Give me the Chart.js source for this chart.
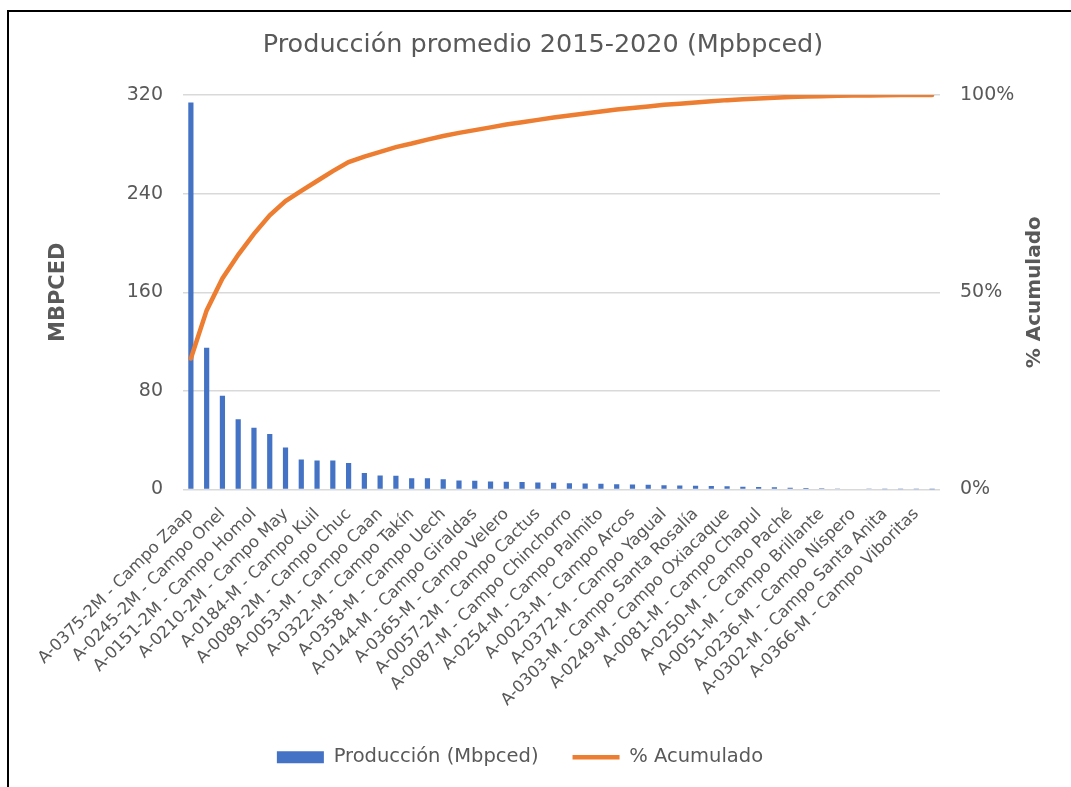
<!DOCTYPE html>
<html lang="es">
<head>
<meta charset="UTF-8">
<title>Producción promedio 2015-2020</title>
<script src="https://cdn.jsdelivr.net/npm/chart.js"></script>
<style>
  html, body { margin: 0; padding: 0; background: #fff; overflow: hidden; }
  #wrap { position: relative; width: 1071px; height: 787px; }
  #frame { position: absolute; left: 7px; top: 10px; width: 1100px; height: 800px;
           border-left: 2px solid #000; border-top: 2px solid #000; pointer-events: none; }
</style>
</head>
<body>
<div id="wrap">
  <canvas id="pareto" width="1071" height="787"></canvas>
  <div id="frame"></div>
</div>
<script>
// categorías (solo las etiquetas visibles en el gráfico; las intermedias no se muestran)
const campos = [
  'A-0375-2M - Campo Zaap', '', 'A-0245-2M - Campo Onel', '', 'A-0151-2M - Campo Homol', '',
  'A-0210-2M - Campo May', '', 'A-0184-M - Campo Kuil', '', 'A-0089-2M - Campo Chuc', '',
  'A-0053-M - Campo Caan', '', 'A-0322-M - Campo Takín', '', 'A-0358-M - Campo Uech', '',
  'A-0144-M - Campo Giraldas', '', 'A-0365-M - Campo Velero', '', 'A-0057-2M - Campo Cactus', '',
  'A-0087-M - Campo Chinchorro', '', 'A-0254-M - Campo Palmito', '', 'A-0023-M - Campo Arcos', '',
  'A-0372-M - Campo Yagual', '', 'A-0303-M - Campo Santa Rosalía', '', 'A-0249-M - Campo Oxiacaque', '',
  'A-0081-M - Campo Chapul', '', 'A-0250-M - Campo Paché', '', 'A-0051-M - Campo Brillante', '',
  'A-0236-M - Campo Níspero', '', 'A-0302-M - Campo Santa Anita', '', 'A-0366-M - Campo Viboritas', ''
];

// producción promedio (Mbpced)
const produccion = [
  314, 115, 76, 57, 50, 45, 34, 24.4, 23.6, 23.6, 21.4, 13.3,
  11.4, 11.1, 9.2, 9.2, 8.4, 7.3, 7.0, 6.5, 6.2, 6.0, 5.7, 5.4,
  5.0, 4.8, 4.6, 4.3, 4.1, 3.8, 3.5, 3.2, 3.0, 2.8, 2.7, 2.2,
  2.0, 1.8, 1.5, 1.2, 1.0, 0.8, 0.6, 0.4, 0.3, 0.2, 0.15, 0.1
];

// % acumulado
const acumulado = [
  33.2, 45.4, 53.5, 59.5, 64.8, 69.5, 73.1, 75.7, 78.2, 80.7, 83.0, 84.4,
  85.6, 86.8, 87.7, 88.7, 89.6, 90.4, 91.1, 91.8, 92.5, 93.1, 93.7, 94.3,
  94.8, 95.3, 95.8, 96.3, 96.7, 97.1, 97.5, 97.8, 98.1, 98.4, 98.7, 98.9,
  99.1, 99.3, 99.5, 99.6, 99.7, 99.8, 99.9, 99.9, 99.95, 99.97, 99.99, 100
];

const ticksIzq = [0, 80, 160, 240, 320];
const ticksDer = [0, 50, 100];

const gris = '#595959';
const fuente = 'DejaVu Sans';

// título del gráfico y título del eje derecho (girado hacia arriba, como en Excel)
const textosExtra = {
  id: 'textosExtra',
  afterDraw(chart) {
    const { ctx, chartArea } = chart;
    ctx.save();
    ctx.fillStyle = gris;
    ctx.textAlign = 'center';
    ctx.textBaseline = 'middle';
    ctx.font = '25.5px "' + fuente + '"';
    ctx.fillText('Producción promedio 2015-2020 (Mpbpced)', 543, 45);
    ctx.translate(1035, (chartArea.top + chartArea.bottom) / 2);
    ctx.rotate(-Math.PI / 2);
    ctx.font = 'bold 20px "' + fuente + '"';
    ctx.fillText('% Acumulado', 0, 0);
    ctx.restore();
  }
};

new Chart(document.getElementById('pareto'), {
  data: {
    labels: campos,
    datasets: [
      {
        type: 'bar',
        label: 'Producción (Mbpced)',
        data: produccion,
        backgroundColor: '#4472C4',
        categoryPercentage: 1,
        barPercentage: 0.33,
        yAxisID: 'y',
        pointStyle: 'rect',
        order: 2
      },
      {
        type: 'line',
        label: '% Acumulado',
        data: acumulado,
        borderColor: '#ED7D31',
        backgroundColor: '#ED7D31',
        borderWidth: 4.5,
        borderCapStyle: 'round',
        pointRadius: 0,
        pointStyle: 'line',
        tension: 0,
        yAxisID: 'y1',
        order: 1
      }
    ]
  },
  options: {
    responsive: false,
    animation: false,
    layout: { padding: { left: 0, right: 31, top: 95, bottom: 10 } },
    plugins: {
      title: { display: false },
      legend: {
        position: 'bottom',
        reverse: true,
        labels: {
          color: gris,
          font: { family: fuente, size: 19.5 },
          usePointStyle: true,
          pointStyleWidth: 47,
          boxWidth: 47,
          boxHeight: 12,
          padding: 34
        }
      },
      tooltip: { enabled: false }
    },
    scales: {
      x: {
        grid: { display: false },
        border: { display: false },
        afterFit: s => { s.height = 224; },
        ticks: {
          autoSkip: false,
          minRotation: 45,
          maxRotation: 45,
          color: gris,
          padding: 7,
          font: { family: fuente, size: 16.5 }
        }
      },
      y: {
        position: 'left',
        min: 0,
        max: 320,
        afterBuildTicks: s => { s.ticks = ticksIzq.map(v => ({ value: v })); },
        afterFit: s => { s.width = 183; },
        grid: { color: '#d9d9d9', lineWidth: 1.5, drawTicks: false },
        border: { display: false },
        ticks: { color: gris, padding: 20, font: { family: fuente, size: 19 } },
        title: {
          display: true,
          text: 'MBPCED',
          color: gris,
          font: { family: fuente, size: 21, weight: 'bold' },
          padding: { top: 46, bottom: 0 }
        }
      },
      y1: {
        position: 'right',
        min: 0,
        max: 100,
        afterBuildTicks: s => { s.ticks = ticksDer.map(v => ({ value: v })); },
        afterFit: s => { s.width = 1071 - 31 - 940; },
        grid: { display: false, drawTicks: false },
        border: { display: false },
        ticks: { color: gris, padding: 20, font: { family: fuente, size: 19 }, callback: v => v + '%' }
      }
    }
  },
  plugins: [textosExtra]
});
</script>
</body>
</html>
